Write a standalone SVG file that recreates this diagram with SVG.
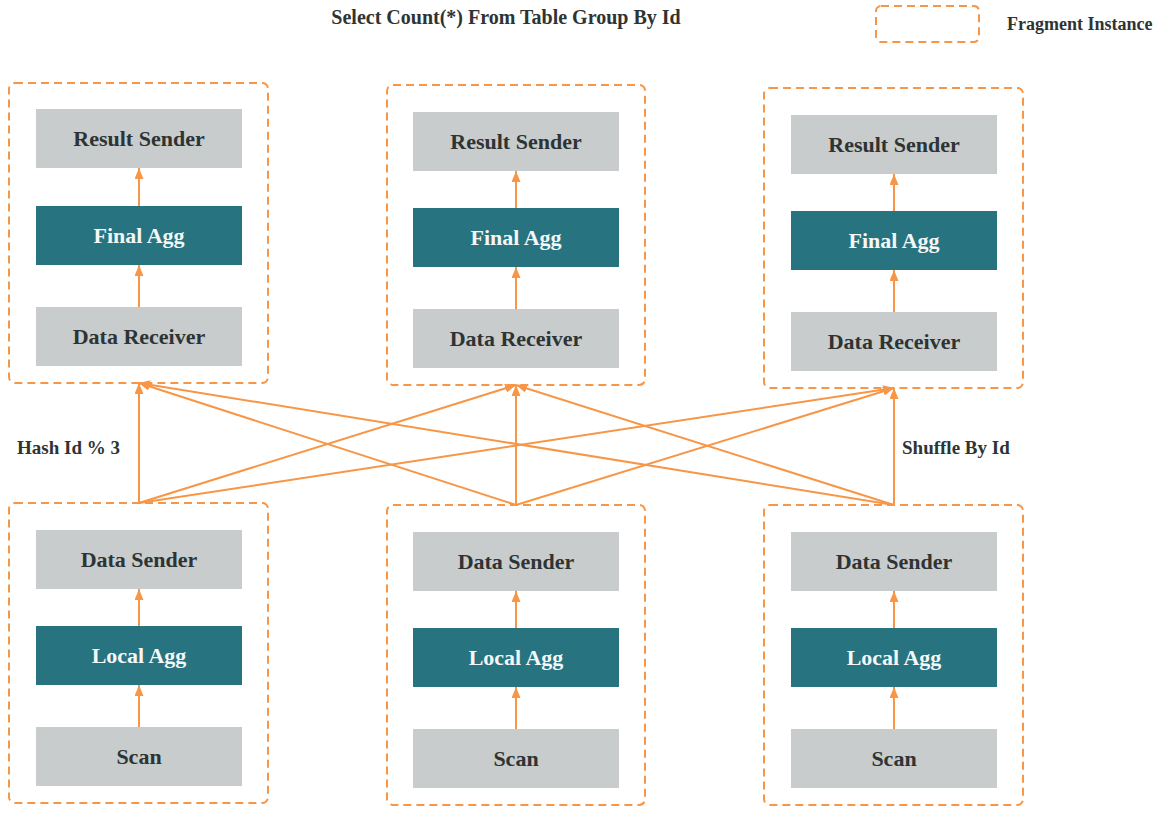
<svg xmlns="http://www.w3.org/2000/svg" width="1158" height="819" viewBox="0 0 1158 819">
<style>
.frag{fill:none;stroke:#f79646;stroke-width:2;stroke-dasharray:8 5}
.g{fill:#c8cccd}
.t{fill:#27737f}
.lb{font-family:"Liberation Serif","Times New Roman",serif;font-weight:bold;font-size:22px;text-anchor:middle}
.lg{fill:#2e3434}
.lt{fill:#f4f7f7}
.cap{font-family:"Liberation Serif","Times New Roman",serif;font-weight:bold;font-size:19px;fill:#2e3434}
.ttl{font-size:20px}
.leg{font-size:18px}
.ar{stroke:#f79646;stroke-width:2;fill:none;marker-end:url(#ah)}
</style>
<defs>
<marker id="ah" markerUnits="userSpaceOnUse" markerWidth="12" markerHeight="10" refX="11" refY="4.5" orient="auto">
<path d="M0,0 L11,4.5 L0,9 z" fill="#f79646"/>
</marker>
</defs>
<rect width="1158" height="819" fill="#ffffff"/>
<text class="cap ttl" x="506" y="24" text-anchor="middle">Select Count(*) From Table Group By Id</text>
<g id="legend">
<rect class="frag" x="876" y="6" width="103" height="36" rx="5"/>
<text class="cap leg" x="1007" y="30">Fragment Instance</text>
</g>
<text class="cap" x="17" y="454">Hash Id % 3</text>
<text class="cap" x="902" y="454">Shuffle By Id</text>

<g id="frag-top-left">
<rect class="frag" x="9" y="83" width="259" height="300" rx="6"/>
<g id="result-sender-1"><rect class="g" x="36" y="109" width="206" height="59"/><text class="lb lg" x="139" y="146">Result Sender</text></g>
<g id="final-agg-1"><rect class="t" x="36" y="206" width="206" height="59"/><text class="lb lt" x="139" y="243">Final Agg</text></g>
<g id="data-receiver-1"><rect class="g" x="36" y="307" width="206" height="59"/><text class="lb lg" x="139" y="344">Data Receiver</text></g>
</g>
<g id="frag-top-mid">
<rect class="frag" x="387" y="85" width="258" height="300" rx="6"/>
<g id="result-sender-2"><rect class="g" x="413" y="112" width="206" height="59"/><text class="lb lg" x="516" y="149">Result Sender</text></g>
<g id="final-agg-2"><rect class="t" x="413" y="208" width="206" height="59"/><text class="lb lt" x="516" y="245">Final Agg</text></g>
<g id="data-receiver-2"><rect class="g" x="413" y="309" width="206" height="59"/><text class="lb lg" x="516" y="346">Data Receiver</text></g>
</g>
<g id="frag-top-right">
<rect class="frag" x="764" y="88" width="259" height="300" rx="6"/>
<g id="result-sender-3"><rect class="g" x="791" y="115" width="206" height="59"/><text class="lb lg" x="894" y="152">Result Sender</text></g>
<g id="final-agg-3"><rect class="t" x="791" y="211" width="206" height="59"/><text class="lb lt" x="894" y="248">Final Agg</text></g>
<g id="data-receiver-3"><rect class="g" x="791" y="312" width="206" height="59"/><text class="lb lg" x="894" y="349">Data Receiver</text></g>
</g>
<g id="frag-bottom-left">
<rect class="frag" x="9" y="503" width="259" height="300" rx="6"/>
<g id="data-sender-1"><rect class="g" x="36" y="530" width="206" height="59"/><text class="lb lg" x="139" y="567">Data Sender</text></g>
<g id="local-agg-1"><rect class="t" x="36" y="626" width="206" height="59"/><text class="lb lt" x="139" y="663">Local Agg</text></g>
<g id="scan-1"><rect class="g" x="36" y="727" width="206" height="59"/><text class="lb lg" x="139" y="764">Scan</text></g>
</g>
<g id="frag-bottom-mid">
<rect class="frag" x="387" y="505" width="258" height="300" rx="6"/>
<g id="data-sender-2"><rect class="g" x="413" y="532" width="206" height="59"/><text class="lb lg" x="516" y="569">Data Sender</text></g>
<g id="local-agg-2"><rect class="t" x="413" y="628" width="206" height="59"/><text class="lb lt" x="516" y="665">Local Agg</text></g>
<g id="scan-2"><rect class="g" x="413" y="729" width="206" height="59"/><text class="lb lg" x="516" y="766">Scan</text></g>
</g>
<g id="frag-bottom-right">
<rect class="frag" x="764" y="505" width="259" height="300" rx="6"/>
<g id="data-sender-3"><rect class="g" x="791" y="532" width="206" height="59"/><text class="lb lg" x="894" y="569">Data Sender</text></g>
<g id="local-agg-3"><rect class="t" x="791" y="628" width="206" height="59"/><text class="lb lt" x="894" y="665">Local Agg</text></g>
<g id="scan-3"><rect class="g" x="791" y="729" width="206" height="59"/><text class="lb lg" x="894" y="766">Scan</text></g>
</g>

<g id="connectors">
<line class="ar" x1="139" y1="206" x2="139" y2="168"/>
<line class="ar" x1="139" y1="307" x2="139" y2="265"/>
<line class="ar" x1="516" y1="208" x2="516" y2="171"/>
<line class="ar" x1="516" y1="309" x2="516" y2="267"/>
<line class="ar" x1="894" y1="211" x2="894" y2="174"/>
<line class="ar" x1="894" y1="312" x2="894" y2="270"/>
<line class="ar" x1="139" y1="626" x2="139" y2="589"/>
<line class="ar" x1="139" y1="727" x2="139" y2="685"/>
<line class="ar" x1="516" y1="628" x2="516" y2="591"/>
<line class="ar" x1="516" y1="729" x2="516" y2="687"/>
<line class="ar" x1="894" y1="628" x2="894" y2="591"/>
<line class="ar" x1="894" y1="729" x2="894" y2="687"/>

<line class="ar" x1="139" y1="503" x2="139" y2="383"/>
<line class="ar" x1="139" y1="503" x2="516" y2="385"/>
<line class="ar" x1="139" y1="503" x2="894" y2="388"/>
<line class="ar" x1="516" y1="505" x2="139" y2="383"/>
<line class="ar" x1="516" y1="505" x2="516" y2="385"/>
<line class="ar" x1="516" y1="505" x2="894" y2="388"/>
<line class="ar" x1="894" y1="505" x2="139" y2="383"/>
<line class="ar" x1="894" y1="505" x2="516" y2="385"/>
<line class="ar" x1="894" y1="505" x2="894" y2="388"/>
</g>
</svg>
